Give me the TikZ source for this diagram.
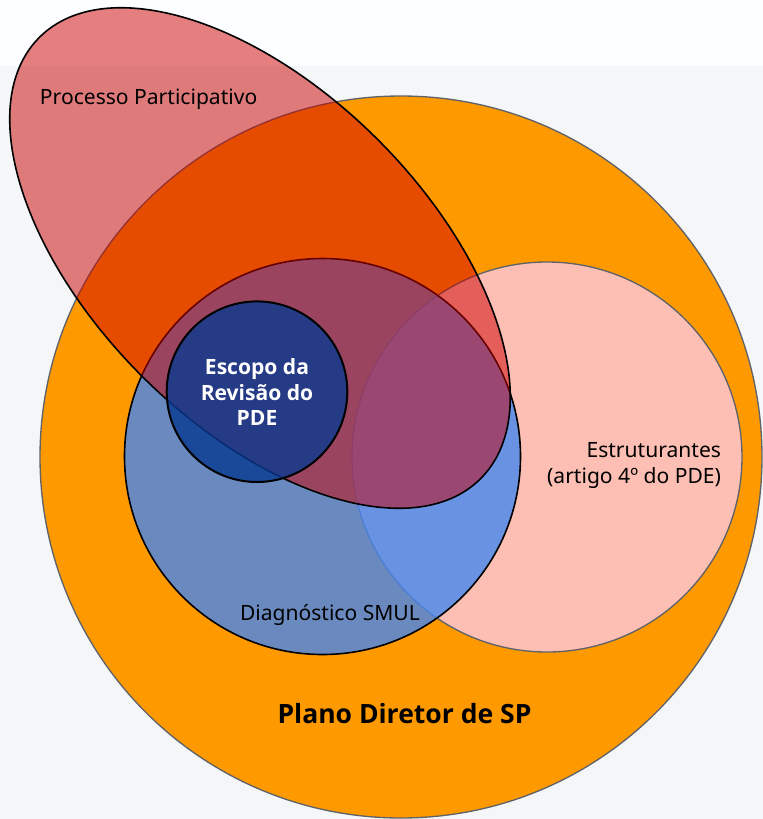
\documentclass[tikz,border=0pt]{standalone}
\usepackage{fontspec}
\setmainfont{Noto Sans}
\newfontfamily\boldface{Open Sans}

\definecolor{bgtop}{RGB}{253,254,255}
\definecolor{bggray}{RGB}{244,246,248}
\definecolor{pdeorange}{RGB}{255,153,0}
\definecolor{estpink}{RGB}{253,191,179}
\definecolor{diagblue}{RGB}{69,135,239}
\definecolor{procred}{RGB}{204,0,0}
\definecolor{escnavy}{RGB}{8,57,144}
\definecolor{rimgray}{RGB}{95,99,104}

\tikzset{every picture/.style={line width=0.75pt}}
\tikzset{
  rimgrey/.style={draw=rimgray, line width=1pt},
  rimblack/.style={draw=black, line width=1.2pt},
  lbl/.style={inner sep=0pt, font=\fontsize{15.8}{19.5}\selectfont},
  lblbold/.style={inner sep=0pt, font=\boldface\bfseries\fontsize{15.8}{19}\selectfont}
}

\begin{document}
\begin{tikzpicture}[x=0.75pt,y=0.75pt,yscale=-1,xscale=1]
\useasboundingbox (0,0) rectangle (763,819);

%Background
\fill [bgtop] (0,0) rectangle (763,65.5);
\fill [bggray] (0,65.5) rectangle (763,819);

%Shape: Circle [Plano Diretor]
\draw [rimgrey, fill=pdeorange] (401,457) circle [radius=361];
%Shape: Circle [Estruturantes]
\draw [rimgrey, fill=estpink] (547,457) circle [radius=195];
%Shape: Circle [Diagnostico]
\draw [rimblack, fill=diagblue, fill opacity=0.8] (322.5,456.5) circle [radius=198];
%Shape: Ellipse [Processo Participativo]
\draw [rimblack, fill=procred, fill opacity=0.5, rotate around={45:(260,258)}] (260,258) ellipse [x radius=312, y radius=167];
%Shape: Circle [Escopo]
\draw [rimblack, line width=1.5pt, fill=escnavy, fill opacity=0.8] (257,391.7) circle [radius=90.3];

% Text Node
\node (processo) [lbl, anchor=base west] at (39.5,104.3) {Processo Participativo};
% Text Node
\node (escopo) [lblbold, text=white, align=center] at (257,392) {Escopo da\\Revisão do\\PDE};
% Text Node
\node (estrut) [lbl, align=right, anchor=east] at (721.5,465) {Estruturantes\\(artigo 4º do PDE)};
% Text Node
\node (diag) [lbl, anchor=base west] at (239.5,620) {Diagnóstico SMUL};
% Text Node
\node (plano) [inner sep=0pt, font=\boldface\bfseries\fontsize{19.9}{23}\selectfont, anchor=base] at (404.5,723) {Plano Diretor de SP};

\end{tikzpicture}
\end{document}
